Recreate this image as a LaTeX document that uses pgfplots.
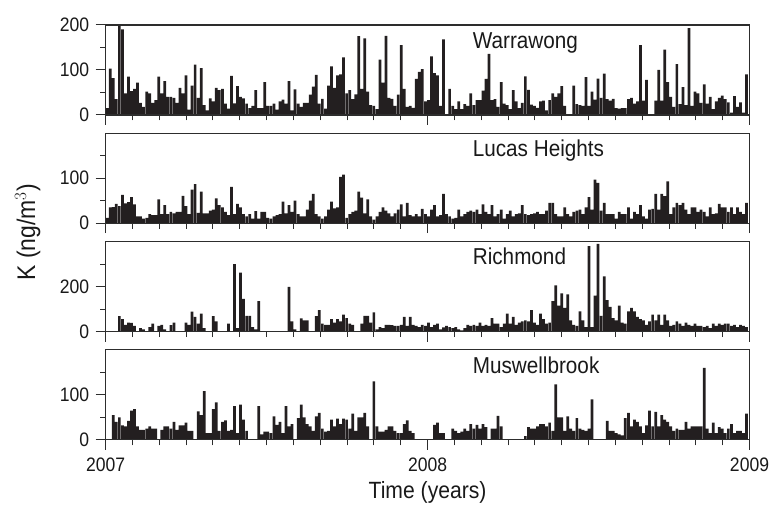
\documentclass[border=0pt]{standalone}
\usepackage{fontspec}
\setmainfont{Liberation Sans}[FakeStretch=0.9]
\usepackage{pgfplots}
\pgfplotsset{compat=1.18}
\usepgfplotslibrary{groupplots}
\usetikzlibrary{calc}
\definecolor{barc}{RGB}{35,31,32}
\definecolor{axc}{RGB}{45,45,45}
\pgfplotsset{
  panel/.style={
    width=644bp, height=90bp, scale only axis,
    xmin=0, xmax=731, ymin=0,
    xtick={0,365.5,731},
    minor xtick={30.46,60.92,91.38,121.83,152.29,182.75,213.21,243.67,274.13,304.58,335.04,395.96,426.42,456.88,487.33,517.79,548.25,578.71,609.17,639.63,670.08,700.54},
    xticklabels={},
    tick align=outside,
    xtick pos=bottom, ytick pos=left,
    major tick length=10bp, minor tick length=5.5bp,
    every tick/.style={axc, line width=1bp},
    axis line style={axc, line width=1.2bp},
    ticklabel style={font=\fontsize{19.5bp}{21bp}\selectfont, text=black!90},
    yticklabel style={xshift=-3bp},
    xticklabel style={yshift=-5bp},
    /pgf/number format/assume math mode=true,
    axis on top,
  },
  bars/.style={ybar, bar width=3.1, bar shift=0pt, fill=barc, draw=none},
}
\tikzset{ttl/.style={anchor=base west, inner sep=0pt, font=\fontsize{23bp}{25bp}\selectfont, text=black!90}}
\begin{document}
\begin{tikzpicture}
\begin{groupplot}[group style={group size=1 by 4, vertical sep=18.3bp}, panel]
\nextgroupplot[ymax=200, ytick={0,100,200}, minor ytick={50,150}]
\addplot[bars] table[x expr=\coordindex*3.44+1.8, y index=0, header=false, row sep=\\] {15\\103\\82\\35\\200\\190\\48\\85\\53\\58\\72\\27\\18\\52\\48\\27\\33\\85\\48\\75\\40\\40\\38\\27\\60\\48\\88\\12\\65\\112\\38\\104\\22\\10\\37\\30\\60\\55\\58\\25\\14\\87\\26\\64\\40\\37\\25\\15\\20\\55\\15\\15\\73\\20\\20\\25\\12\\30\\34\\25\\75\\10\\57\\25\\18\\27\\27\\45\\63\\89\\25\\36\\14\\65\\108\\60\\88\\90\\128\\48\\55\\35\\46\\175\\58\\170\\52\\22\\20\\13\\123\\72\\176\\38\\36\\20\\45\\155\\58\\18\\20\\16\\80\\96\\102\\30\\33\\130\\93\\88\\20\\168\\2\\58\\20\\13\\30\\13\\24\\20\\48\\22\\33\\33\\54\\80\\136\\33\\35\\18\\73\\25\\22\\13\\55\\30\\15\\27\\86\\56\\23\\20\\16\\30\\32\\10\\33\\48\\40\\48\\64\\20\\0\\0\\65\\24\\22\\20\\84\\20\\52\\34\\81\\38\\92\\35\\32\\36\\15\\14\\15\\15\\35\\38\\25\\30\\155\\32\\78\\0\\0\\32\\100\\32\\145\\73\\40\\18\\113\\24\\62\\22\\193\\20\\52\\48\\27\\68\\25\\40\\13\\30\\38\\43\\35\\28\\5\\42\\18\\28\\5\\90\\};
\node[ttl] at (rel axis cs:0.570,0.74) {Warrawong};
\coordinate (tl) at (rel axis cs:0,1);
\nextgroupplot[ymax=200, ytick={0,100}, minor ytick={50,150}]
\addplot[bars] table[x expr=\coordindex*3.44+1.8, y index=0, header=false, row sep=\\] {12\\35\\36\\43\\38\\63\\44\\47\\58\\42\\15\\15\\10\\12\\20\\18\\18\\53\\20\\40\\20\\25\\22\\25\\25\\61\\38\\20\\75\\87\\23\\70\\22\\22\\28\\30\\55\\40\\35\\25\\18\\81\\20\\43\\35\\20\\15\\20\\10\\27\\10\\25\\25\\12\\10\\15\\18\\20\\48\\22\\40\\25\\50\\20\\15\\15\\30\\50\\65\\20\\15\\10\\15\\30\\48\\33\\35\\103\\108\\12\\20\\25\\28\\70\\57\\22\\53\\15\\8\\15\\25\\35\\28\\22\\15\\22\\30\\42\\15\\45\\18\\15\\20\\15\\32\\20\\15\\30\\40\\15\\18\\65\\20\\15\\10\\12\\30\\15\\20\\25\\28\\25\\30\\20\\42\\25\\20\\40\\15\\20\\30\\10\\20\\28\\15\\20\\22\\40\\20\\18\\20\\22\\25\\20\\20\\28\\45\\45\\20\\15\\15\\35\\20\\15\\25\\28\\30\\20\\35\\58\\30\\97\\90\\28\\45\\20\\20\\20\\10\\25\\20\\20\\35\\10\\25\\20\\40\\15\\10\\30\\32\\65\\30\\65\\60\\93\\20\\35\\45\\40\\45\\30\\20\\35\\35\\25\\30\\25\\15\\35\\20\\22\\43\\35\\35\\25\\35\\20\\35\\25\\20\\45\\};
\node[ttl] at (rel axis cs:0.570,0.74) {Lucas Heights};
\nextgroupplot[ymax=400, ytick={0,200}, minor ytick={100,300}]
\addplot[bars] table[x expr=\coordindex*3.44+1.8, y index=0, header=false, row sep=\\] {0\\0\\0\\0\\68\\55\\30\\40\\38\\25\\0\\15\\10\\0\\20\\35\\0\\25\\30\\10\\0\\28\\40\\0\\0\\0\\40\\30\\88\\65\\35\\80\\15\\0\\0\\68\\45\\0\\0\\0\\35\\0\\300\\15\\262\\145\\70\\70\\20\\10\\135\\0\\0\\0\\0\\0\\0\\0\\0\\0\\198\\45\\10\\0\\58\\50\\50\\0\\0\\68\\95\\35\\30\\30\\55\\40\\55\\45\\75\\60\\35\\30\\0\\0\\35\\70\\70\\40\\85\\10\\20\\15\\30\\30\\28\\25\\25\\30\\65\\25\\65\\30\\25\\20\\30\\25\\40\\20\\30\\35\\10\\18\\25\\20\\15\\20\\10\\5\\15\\30\\25\\30\\25\\40\\25\\30\\25\\60\\35\\35\\20\\35\\80\\35\\65\\30\\40\\45\\50\\45\\95\\40\\30\\80\\55\\35\\40\\135\\205\\115\\170\\105\\165\\50\\30\\25\\90\\50\\20\\380\\20\\160\\390\\70\\245\\140\\110\\60\\50\\115\\40\\35\\90\\105\\90\\65\\55\\50\\30\\45\\75\\50\\75\\30\\75\\50\\25\\30\\45\\35\\25\\40\\30\\25\\35\\25\\25\\20\\25\\15\\35\\25\\35\\30\\35\\35\\25\\30\\20\\30\\25\\20\\};
\node[ttl] at (rel axis cs:0.570,0.74) {Richmond};
\nextgroupplot[ymax=200, ytick={0,100}, minor ytick={50,150}, xticklabels={2007,2008,2009}]
\addplot[bars] table[x expr=\coordindex*3.44+1.8, y index=0, header=false, row sep=\\] {0\\0\\55\\40\\50\\32\\30\\42\\65\\68\\30\\22\\22\\25\\30\\25\\25\\0\\22\\30\\30\\25\\40\\22\\32\\32\\38\\20\\20\\0\\63\\55\\108\\15\\15\\68\\83\\20\\40\\43\\20\\22\\75\\15\\78\\45\\20\\0\\0\\0\\75\\12\\18\\18\\15\\52\\33\\40\\15\\75\\30\\35\\0\\48\\78\\50\\35\\30\\20\\52\\60\\25\\18\\20\\45\\30\\47\\35\\47\\45\\25\\58\\20\\50\\50\\60\\30\\0\\130\\30\\18\\18\\22\\30\\30\\20\\15\\15\\35\\43\\20\\15\\0\\0\\0\\0\\0\\0\\33\\38\\15\\15\\0\\0\\25\\20\\15\\18\\25\\20\\35\\25\\33\\25\\35\\28\\0\\25\\25\\53\\30\\0\\0\\0\\0\\0\\0\\0\\8\\28\\25\\25\\30\\35\\35\\30\\38\\20\\123\\50\\50\\20\\52\\25\\20\\48\\25\\22\\20\\25\\90\\0\\0\\0\\0\\42\\20\\20\\15\\12\\10\\48\\60\\30\\45\\40\\30\\15\\32\\65\\30\\62\\30\\55\\45\\40\\30\\20\\25\\22\\22\\40\\25\\30\\30\\30\\30\\160\\25\\15\\38\\15\\28\\25\\15\\25\\35\\15\\20\\20\\15\\58\\};
\node[ttl] at (rel axis cs:0.570,0.74) {Muswellbrook};
\coordinate (bl) at (rel axis cs:0,0);
\coordinate (br) at (rel axis cs:1,0);
\end{groupplot}
\node[anchor=base, font=\fontsize{23.5bp}{25bp}\selectfont, text=black!90] at ($(bl)!0.5!(br)+(0,-59bp)$) {Time (years)};
\node[rotate=90, font=\fontsize{25.5bp}{27bp}\selectfont, text=black!90] at ($(tl)!0.5!(bl)+(-78bp,0)$) {K (ng/m$^3$)};
\pgfresetboundingbox
\path[use as bounding box] ($(tl)+(-105.7bp,25bp)$) rectangle ($(br)+(20.5bp,-66bp)$);
\end{tikzpicture}
\end{document}
